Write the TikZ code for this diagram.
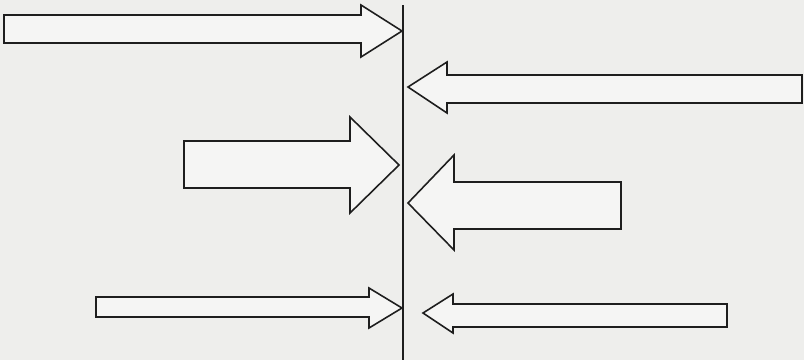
\documentclass[tikz,border=0pt]{standalone}
\usepackage{tikz}
\definecolor{paper}{RGB}{238,238,236}
\definecolor{ink}{RGB}{30,30,30}
\begin{document}
\begin{tikzpicture}[x=0.02cm,y=-0.02cm,line join=miter]
\tikzset{
    bigarrow/.style={draw=ink, line width=0.9pt, fill=white!40!paper},
    wall/.style={draw=ink, line width=1.5pt}
}
\fill[paper](0,0) rectangle (804,360);
\useasboundingbox (0,0) rectangle (804,360);
% the wall
\coordinate (wtop) at (403,5);
\coordinate (wbot) at (403,360);
\draw[wall](wtop)--(wbot);
% arrows from the left
\draw[bigarrow](4,15)--(361,15)--(361,5)--(402,31)--(361,57)--(361,43)--(4,43)--cycle;
\draw[bigarrow](184,141)--(350,141)--(350,117)--(399,165)--(350,213)--(350,188)--(184,188)--cycle;
\draw[bigarrow](96,297)--(369,297)--(369,288)--(402,308)--(369,328)--(369,317)--(96,317)--cycle;
% arrows from the right
\draw[bigarrow](802,75)--(447,75)--(447,62)--(408,87)--(447,113)--(447,103)--(802,103)--cycle;
\draw[bigarrow](621,182)--(454,182)--(454,155)--(408,203)--(454,250)--(454,229)--(621,229)--cycle;
\draw[bigarrow](727,304)--(453,304)--(453,294)--(423,313)--(453,333)--(453,327)--(727,327)--cycle;
\end{tikzpicture}
\end{document}
